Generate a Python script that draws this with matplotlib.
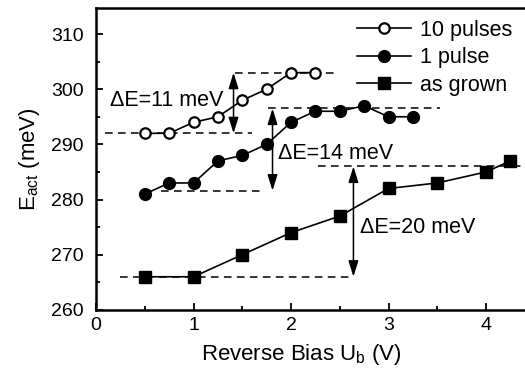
#!/usr/bin/env python3
import matplotlib.pyplot as plt
from matplotlib.ticker import MultipleLocator

plt.rcParams["font.family"] = ["Liberation Sans", "DejaVu Sans"]
plt.rcParams["mathtext.fontset"] = "custom"
plt.rcParams["mathtext.rm"] = "Liberation Sans"
plt.rcParams["mathtext.it"] = "Liberation Sans"

x_10 = [0.5, 0.75, 1.0, 1.25, 1.5, 1.75, 2.0, 2.25]
y_10 = [292, 292, 294, 295, 298, 300, 303, 303]

x_1 = [0.5, 0.75, 1.0, 1.25, 1.5, 1.75, 2.0, 2.25, 2.5, 2.75, 3.0, 3.25]
y_1 = [281, 283, 283, 287, 288, 290, 294, 296, 296, 297, 295, 295]

x_ag = [0.5, 1.0, 1.5, 2.0, 2.5, 3.0, 3.5, 4.0, 4.25]
y_ag = [266, 266, 270, 274, 277, 282, 283, 285, 287]

# (level, x start, x end) for the dashed guide lines
guides = [
    (292, 0.09, 1.6), (303, 1.43, 2.44),
    (281.6, 0.67, 1.71), (296.5, 1.76, 3.53),
    (266, 0.25, 2.63), (286, 2.28, 4.4),
]
# (x, low, high, label, label x, label y)
steps = [
    (1.41, 292, 303, "ΔE=11 meV", 0.14, 298),
    (1.81, 281.6, 296.5, "ΔE=14 meV", 1.87, 288.4),
    (2.64, 266, 286, "ΔE=20 meV", 2.71, 275),
]

fig = plt.figure(figsize=(5.25, 3.68), dpi=100)
ax = fig.add_axes([0.183, 0.158, 0.83, 0.82])

for level, x0, x1 in guides:
    ax.plot([x0, x1], [level, level], color="black", lw=1.1, ls=(0, (5, 3.5)))

for xa, lo, hi, label, lx, ly in steps:
    ax.annotate("", xy=(xa, lo), xytext=(xa, hi),
                arrowprops=dict(arrowstyle="<|-|>,head_length=0.8,head_width=0.25",
                                color="black", lw=1.1, mutation_scale=12,
                                shrinkA=0, shrinkB=0))
    ax.text(lx, ly, label, fontsize=15.5, va="center", ha="left")

ax.plot(x_10, y_10, "-o", color="black", mfc="white", mec="black", mew=1.6,
        ms=7.5, lw=1.2, label="10 pulses")
ax.plot(x_1, y_1, "-o", color="black", ms=8.5, lw=1.2, label="1 pulse")
ax.plot(x_ag, y_ag, "-s", color="black", ms=8, lw=1.2, label="as grown")

ax.set_xlim(0, 4.47)
ax.set_ylim(260, 314.7)
ax.xaxis.set_major_locator(MultipleLocator(1))
ax.xaxis.set_minor_locator(MultipleLocator(0.5))
ax.yaxis.set_major_locator(MultipleLocator(10))
ax.yaxis.set_minor_locator(MultipleLocator(5))
ax.tick_params(which="both", direction="in", labelsize=14, width=1.3)
ax.tick_params(which="major", length=5)
ax.tick_params(which="minor", length=3)
ax.tick_params(axis="x", pad=5)
ax.tick_params(axis="y", pad=9)
for s in ax.spines.values():
    s.set_linewidth(1.8)
ax.spines["right"].set_visible(False)

ax.set_xlabel("Reverse Bias U$_\\mathrm{b}$ (V)", fontsize=16)
ax.set_ylabel("E$_\\mathrm{act}$ (meV)", fontsize=16)
ax.xaxis.set_label_coords(0.47, -0.105)
ax.yaxis.set_label_coords(-0.124, 0.5)

ax.legend(loc="upper right", frameon=False, fontsize=15.5, handlelength=2.5,
          handletextpad=0.4, labelspacing=0.3, borderaxespad=0.0,
          bbox_to_anchor=(0.974, 0.99))

fig.savefig("out.png", dpi=100)
